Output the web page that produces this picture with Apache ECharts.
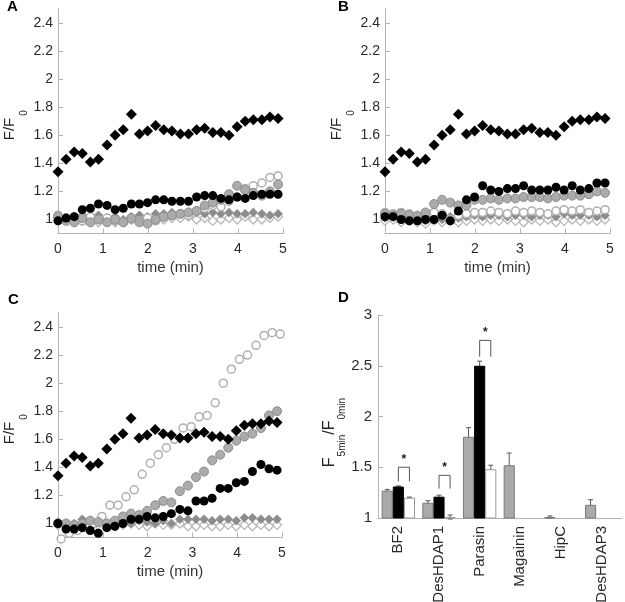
<!DOCTYPE html>
<html>
<head>
<meta charset="utf-8">
<script src="https://cdn.jsdelivr.net/npm/echarts@6/dist/echarts.min.js"></script>
<style>
html,body{margin:0;padding:0;background:#fff;}
#chart{width:625px;height:602px;}
</style>
</head>
<body>
<div id="chart"></div>
<script>
// ---------- data ----------
const times = [0, 0.18, 0.36, 0.54, 0.72, 0.9, 1.09, 1.27, 1.45, 1.63, 1.81, 1.99, 2.17, 2.35, 2.53, 2.72, 2.9, 3.08, 3.26, 3.44, 3.62, 3.8, 3.98, 4.16, 4.34, 4.53, 4.71, 4.89];
const timesShifted = [0.07, 0.25, 0.43, 0.61, 0.79, 0.98, 1.16, 1.34, 1.52, 1.7, 1.88, 2.06, 2.24, 2.42, 2.6, 2.79, 2.97, 3.15, 3.33, 3.51, 3.69, 3.87, 4.05, 4.23, 4.42, 4.6, 4.78, 4.96];
const yTicks = [1, 1.2, 1.4, 1.6, 1.8, 2, 2.2, 2.4];

const blackDiamond = [1.34, 1.43, 1.48, 1.47, 1.41, 1.43, 1.53, 1.60, 1.64, 1.75, 1.61, 1.63, 1.67, 1.64, 1.63, 1.61, 1.61, 1.64, 1.65, 1.62, 1.62, 1.60, 1.66, 1.70, 1.71, 1.71, 1.73, 1.72];

// panel A
const aBlackCircle = [0.99, 1.01, 1.02, 1.07, 1.08, 1.11, 1.10, 1.07, 1.08, 1.11, 1.11, 1.12, 1.14, 1.14, 1.13, 1.13, 1.13, 1.16, 1.17, 1.17, 1.15, 1.14, 1.16, 1.15, 1.17, 1.18, 1.18, 1.18];
const aGrayCircle  = [1.02, 0.99, 0.98, 1.01, 0.98, 1.0, 0.98, 1.0, 0.98, 1.01, 0.98, 0.97, 1.0, 1.02, 1.03, 1.04, 1.05, 1.06, 1.1, 1.12, 1.14, 1.18, 1.24, 1.21, 1.19, 1.17, 1.2, 1.25];
const aOpenCircle  = [1.03, 1.01, 1.0, 0.99, 1.02, 1.0, 1.01, 0.99, 0.98, 1.0, 0.99, 1.01, 0.99, 1.02, 1.03, 1.04, 1.03, 1.06, 1.08, 1.1, 1.09, 1.13, 1.16, 1.22, 1.24, 1.26, 1.3, 1.31];
const aGrayDiamond = [1.01, 1.0, 1.02, 1.03, 1.02, 1.03, 1.01, 1.02, 1.0, 1.02, 1.03, 1.02, 1.04, 1.04, 1.05, 1.04, 1.05, 1.05, 1.04, 1.05, 1.04, 1.05, 1.04, 1.04, 1.05, 1.04, 1.03, 1.04];
const aOpenDiamond = [0.99, 1.0, 0.98, 0.99, 1.0, 0.98, 0.99, 0.98, 0.98, 1.0, 0.99, 0.99, 1.0, 1.0, 1.01, 1.01, 1.02, 1.0, 1.01, 0.99, 1.0, 1.01, 1.0, 1.02, 1.0, 1.0, 1.01, 1.02];

// panel B
const bBlackCircle = [1.02, 1.02, 1.0, 0.99, 0.99, 1.0, 1.0, 1.03, 0.99, 1.06, 1.14, 1.16, 1.24, 1.21, 1.2, 1.22, 1.22, 1.24, 1.21, 1.21, 1.21, 1.23, 1.21, 1.24, 1.21, 1.22, 1.26, 1.26];
const bGrayCircle  = [1.04, 1.03, 1.04, 1.03, 1.02, 1.05, 1.11, 1.14, 1.12, 1.1, 1.1, 1.14, 1.14, 1.15, 1.14, 1.15, 1.15, 1.16, 1.16, 1.16, 1.15, 1.16, 1.17, 1.17, 1.17, 1.18, 1.2, 1.19];
const bOpenCircle  = [1.05, 1.04, 1.05, 1.04, 1.03, 1.02, 1.05, 1.04, 1.0, 1.03, 1.04, 1.05, 1.05, 1.06, 1.05, 1.04, 1.06, 1.05, 1.06, 1.05, 1.04, 1.06, 1.07, 1.06, 1.07, 1.05, 1.06, 1.07];
const bGrayDiamond = [1.01, 1.02, 1.0, 1.01, 1.0, 0.99, 1.01, 1.0, 1.02, 1.01, 1.02, 1.03, 1.02, 1.03, 1.03, 1.02, 1.03, 1.03, 1.02, 1.03, 1.03, 1.02, 1.04, 1.03, 1.03, 1.03, 1.02, 1.03];
const bOpenDiamond = [0.99, 1.0, 0.98, 0.99, 0.98, 0.97, 0.99, 0.98, 0.99, 0.98, 0.99, 1.0, 0.99, 1.0, 0.99, 1.0, 0.99, 0.98, 1.0, 0.99, 1.0, 0.98, 0.99, 1.0, 0.99, 1.0, 0.99, 1.0];

// panel C
const cBlackCircle = [1.0, 0.96, 0.96, 0.97, 0.95, 0.93, 0.97, 0.98, 1.0, 1.03, 1.03, 1.05, 1.04, 1.05, 1.07, 1.1, 1.09, 1.16, 1.16, 1.18, 1.25, 1.25, 1.29, 1.3, 1.37, 1.42, 1.39, 1.38];
const cGrayCircle  = [1.0, 1.0, 0.99, 1.0, 1.02, 1.01, 1.0, 1.02, 1.05, 1.07, 1.06, 1.09, 1.13, 1.16, 1.15, 1.23, 1.27, 1.33, 1.37, 1.45, 1.49, 1.54, 1.59, 1.62, 1.64, 1.68, 1.77, 1.8];
const cOpenCircle  = [0.89, 0.93, 0.95, 0.97, 1.0, 1.05, 1.13, 1.13, 1.19, 1.24, 1.35, 1.43, 1.49, 1.54, 1.6, 1.68, 1.69, 1.76, 1.77, 1.86, 2.0, 2.1, 2.17, 2.2, 2.27, 2.34, 2.36, 2.35];
const cGrayDiamond = [1.01, 1.0, 1.0, 1.03, 1.02, 1.01, 1.0, 1.01, 1.02, 1.0, 1.02, 1.01, 1.0, 1.02, 1.0, 1.03, 1.03, 1.03, 1.03, 1.02, 1.03, 1.03, 1.02, 1.04, 1.04, 1.03, 1.03, 1.03];
const cOpenDiamond = [0.99, 0.98, 0.99, 1.0, 0.98, 0.99, 0.99, 0.98, 0.99, 1.0, 0.99, 0.98, 1.0, 0.99, 0.99, 1.0, 0.98, 0.98, 0.99, 0.98, 0.98, 0.99, 0.98, 0.99, 0.98, 0.99, 0.98, 0.99];

// panel D
const categories = ['BF2', 'DesHDAP1', 'Parasin', 'Magainin', 'HipC', 'DesHDAP3'];
const grayBar  = [1.27, 1.15, 1.80, 1.52, 1.01, 1.13];
const grayErr  = [0.012, 0.02, 0.09, 0.12, 0.01, 0.05];
const blackBar = [1.31, 1.21, 2.50, null, null, null];
const blackErr = [0.006, 0.015, 0.045, null, null, null];
const whiteBar = [1.20, 1.01, 1.48, null, null, null];
const whiteErr = [0.006, 0.02, 0.04, null, null, null];
const sigCategory = [0, 1, 2];
const sigTop = [1.50, 1.42, 2.75];
const sigLeg = [1.36, 1.29, 2.59];

// ---------- styles ----------
const FONT = "'Liberation Sans', Arial, Helvetica, sans-serif";
const AXIS_COLOR = '#b4b4b4';
const LABEL_COLOR = '#2a2a2a';
const CAT_GAP = 0.18;

const chart = echarts.init(document.getElementById('chart'), null, {renderer: 'canvas'});

const grids = [
  {left: 58, top: 9, width: 225, height: 224.5},
  {left: 385, top: 9, width: 225, height: 224.5},
  {left: 58, top: 313, width: 224, height: 224.5},
  {left: 378, top: 315, width: 244, height: 203}
].map(g => Object.assign({outerBoundsMode: 'none', containLabel: false}, g));

function timeAxis(gi) {
  return {
    type: 'value', gridIndex: gi, min: 0, max: 5, interval: 1,
    axisLine: {lineStyle: {color: AXIS_COLOR, width: 1}},
    axisTick: {inside: true, length: 5, lineStyle: {color: AXIS_COLOR}},
    axisLabel: {color: LABEL_COLOR, fontSize: 14, fontFamily: FONT, margin: 9},
    splitLine: {show: false},
    name: 'time (min)', nameLocation: 'middle', nameGap: 27,
    nameTextStyle: {color: '#333', fontSize: 15, fontFamily: FONT}
  };
}
function ratioAxis(gi) {
  return {
    type: 'value', gridIndex: gi, min: 0.9, max: 2.5,
    axisLine: {show: true, lineStyle: {color: AXIS_COLOR, width: 1}},
    axisTick: {show: true, inside: true, length: 5, customValues: yTicks, lineStyle: {color: AXIS_COLOR}},
    axisLabel: {color: LABEL_COLOR, fontSize: 14, fontFamily: FONT, margin: 5, customValues: yTicks},
    splitLine: {show: false},
    name: '{m|F/F}{s|0}', nameLocation: 'middle', nameGap: 31,
    nameTextStyle: {
      fontFamily: FONT, color: '#222', padding: [0, 8, 0, 0],
      rich: {
        m: {fontSize: 15, lineHeight: 16, verticalAlign: 'top', fontFamily: FONT, color: '#222'},
        s: {fontSize: 10, lineHeight: 10, verticalAlign: 'top', padding: [17, 0, 0, 2], fontFamily: FONT, color: '#222'}
      }
    }
  };
}

const xAxes = [timeAxis(0), timeAxis(1), timeAxis(2), {
  type: 'category', gridIndex: 3, data: categories,
  axisLine: {lineStyle: {color: AXIS_COLOR, width: 1}},
  axisTick: {inside: true, length: 7, alignWithLabel: false, lineStyle: {color: AXIS_COLOR}},
  axisLabel: {rotate: 90, color: LABEL_COLOR, fontSize: 15, fontFamily: FONT, margin: 8, interval: 0}
}];
const yAxes = [ratioAxis(0), ratioAxis(1), ratioAxis(2), {
  type: 'value', gridIndex: 3, min: 1, max: 3, interval: 0.5,
  axisLine: {show: true, lineStyle: {color: AXIS_COLOR, width: 1}},
  axisTick: {show: true, inside: true, length: 5, lineStyle: {color: AXIS_COLOR}},
  axisLabel: {color: LABEL_COLOR, fontSize: 15, fontFamily: FONT, margin: 6},
  splitLine: {show: false},
  name: '{m|F}{s|5min}{m|/F}{s|0min}', nameLocation: 'middle', nameGap: 36,
  nameTextStyle: {
    fontFamily: FONT, color: '#222', padding: [0, 32, 0, 0],
    rich: {
      m: {fontSize: 16, lineHeight: 17, verticalAlign: 'top', fontFamily: FONT, color: '#222'},
      s: {fontSize: 10, lineHeight: 10, verticalAlign: 'top', padding: [16, 0, 0, 1], fontFamily: FONT, color: '#222'}
    }
  }
}];

const markerStyles = {
  openDiamond:  {symbol: 'diamond', symbolSize: 9, itemStyle: {color: '#fff', borderColor: '#b8b8b8', borderWidth: 1.3, opacity: 1}},
  grayDiamond:  {symbol: 'diamond', symbolSize: 9, itemStyle: {color: '#8c8c8c', borderColor: '#8c8c8c', borderWidth: 0.5, opacity: 1}},
  openCircle:   {symbol: 'circle', symbolSize: 8, itemStyle: {color: '#fff', borderColor: '#b0b0b0', borderWidth: 1.5, opacity: 1}},
  grayCircle:   {symbol: 'circle', symbolSize: 9, itemStyle: {color: '#ababab', borderColor: '#8e8e8e', borderWidth: 1, opacity: 1}},
  blackCircle:  {symbol: 'circle', symbolSize: 9, itemStyle: {color: '#000', opacity: 1}},
  blackDiamond: {symbol: 'diamond', symbolSize: 11, itemStyle: {color: '#000', opacity: 1}}
};

function pairs(xs, ys) { return xs.map((x, i) => [x, ys[i]]); }

const panels = [
  {openDiamond: [times, aOpenDiamond], grayDiamond: [times, aGrayDiamond], openCircle: [times, aOpenCircle], grayCircle: [times, aGrayCircle], blackCircle: [times, aBlackCircle], blackDiamond: [times, blackDiamond]},
  {openDiamond: [times, bOpenDiamond], grayDiamond: [times, bGrayDiamond], openCircle: [times, bOpenCircle], grayCircle: [times, bGrayCircle], blackCircle: [times, bBlackCircle], blackDiamond: [times, blackDiamond]},
  {openDiamond: [times, cOpenDiamond], grayDiamond: [times, cGrayDiamond], openCircle: [timesShifted, cOpenCircle], grayCircle: [times, cGrayCircle], blackCircle: [times, cBlackCircle], blackDiamond: [times, blackDiamond]}
];

const series = [];
panels.forEach((p, gi) => {
  ['openDiamond', 'grayDiamond', 'openCircle', 'grayCircle', 'blackCircle', 'blackDiamond'].forEach(key => {
    series.push(Object.assign({
      type: 'scatter', name: key, xAxisIndex: gi, yAxisIndex: gi,
      data: pairs(p[key][0], p[key][1]), silent: true, clip: false,
      emphasis: {disabled: true}
    }, markerStyles[key]));
  });
});

// bars
series.push({type: 'bar', name: 'gray', xAxisIndex: 3, yAxisIndex: 3, data: grayBar, barGap: '0%', barCategoryGap: (CAT_GAP * 100) + '%',
  itemStyle: {color: '#aaaaaa', borderColor: '#7a7a7a', borderWidth: 1}, silent: true});
series.push({type: 'bar', name: 'black', xAxisIndex: 3, yAxisIndex: 3, data: blackBar, barGap: '0%', barCategoryGap: (CAT_GAP * 100) + '%',
  itemStyle: {color: '#000', borderColor: '#000', borderWidth: 1}, silent: true});
series.push({type: 'bar', name: 'white', xAxisIndex: 3, yAxisIndex: 3, data: whiteBar, barGap: '0%', barCategoryGap: (CAT_GAP * 100) + '%',
  itemStyle: {color: '#fff', borderColor: '#9a9a9a', borderWidth: 1}, silent: true});

// error bars
const errData = [];
[[grayBar, grayErr, 0], [blackBar, blackErr, 1], [whiteBar, whiteErr, 2]].forEach(([vals, errs, slot]) => {
  vals.forEach((v, i) => { if (v != null) errData.push([i, v, errs[i], slot]); });
});
series.push({
  type: 'custom', name: 'error', xAxisIndex: 3, yAxisIndex: 3, silent: true, clip: false,
  data: errData, encode: {x: 0, y: 1},
  renderItem: function (params, api) {
    const cat = api.value(0), v = api.value(1), e = api.value(2), slot = api.value(3);
    const band = api.size([1, 0])[0];
    const bw = band * (1 - CAT_GAP) / 3;
    const c = api.coord([cat, v]);
    const x = c[0] + (slot - 1) * bw;
    const yt = api.coord([cat, v + e])[1];
    const yb = api.coord([cat, v - e])[1];
    const cap = 2.5;
    const st = {stroke: '#555', lineWidth: 1};
    return {type: 'group', children: [
      {type: 'line', shape: {x1: x, y1: yt, x2: x, y2: yb}, style: st},
      {type: 'line', shape: {x1: x - cap, y1: yt, x2: x + cap, y2: yt}, style: st},
      {type: 'line', shape: {x1: x - cap, y1: yb, x2: x + cap, y2: yb}, style: st}
    ]};
  }
});

// significance brackets
series.push({
  type: 'custom', name: 'significance', xAxisIndex: 3, yAxisIndex: 3, silent: true, clip: false,
  data: sigCategory.map((c, i) => [c, sigTop[i], sigLeg[i]]), encode: {x: 0, y: 1},
  renderItem: function (params, api) {
    const cat = api.value(0), top = api.value(1), leg = api.value(2);
    const band = api.size([1, 0])[0];
    const bw = band * (1 - CAT_GAP) / 3;
    const c = api.coord([cat, top]);
    const x1 = c[0], x2 = c[0] + bw;
    const yt = c[1];
    const yl = api.coord([cat, leg])[1];
    return {type: 'group', children: [
      {type: 'polyline', shape: {points: [[x1, yl], [x1, yt], [x2, yt], [x2, yl]]}, style: {stroke: '#555', lineWidth: 1, fill: null}},
      {type: 'text', style: {text: '*', x: (x1 + x2) / 2, y: yt - 2, textAlign: 'center', textVerticalAlign: 'bottom', font: 'bold 12px ' + FONT, fill: '#222'}}
    ]};
  }
});

const letterStyle = {fontSize: 15, fontWeight: 'bold', color: '#000', fontFamily: FONT};
const option = {
  animation: false,
  backgroundColor: '#fff',
  title: [
    {text: 'A', left: 7, top: -1, padding: 0, textStyle: letterStyle},
    {text: 'B', left: 338, top: -1, padding: 0, textStyle: letterStyle},
    {text: 'C', left: 8, top: 292, padding: 0, textStyle: letterStyle},
    {text: 'D', left: 338, top: 290, padding: 0, textStyle: letterStyle}
  ],
  grid: grids,
  xAxis: xAxes,
  yAxis: yAxes,
  series: series
};
chart.setOption(option);
</script>
</body>
</html>
